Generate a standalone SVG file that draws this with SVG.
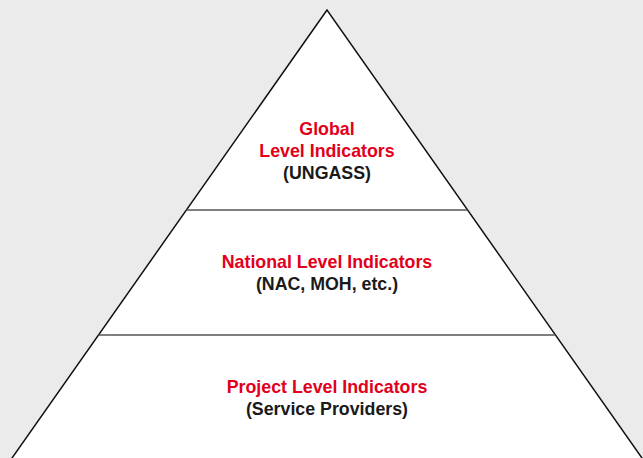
<svg xmlns="http://www.w3.org/2000/svg" width="643" height="458" viewBox="0 0 643 458">
<style>
.t{font-family:"Liberation Sans",Arial,sans-serif;font-weight:bold;font-size:17.8px;text-anchor:middle}
.r{fill:#e2001a}
.k{fill:#1a1a1a}
.sep{stroke:#555;stroke-width:1.6;fill:none}
</style>
<rect width="643" height="458" fill="#ebebeb"/>
<g id="pyramid">
<polygon points="327,10 3.6,470 650.4,470" fill="#fff" stroke="#111" stroke-width="1.5"/>
</g>
<g id="connectors">
<line class="sep" x1="186.4" y1="210" x2="467.6" y2="210"/>
<line class="sep" x1="98.5" y1="335" x2="555.5" y2="335"/>
</g>
<g id="global">
<text class="t r" x="327" y="135">Global</text>
<text class="t r" x="327" y="157">Level Indicators</text>
<text class="t k" x="327" y="179">(UNGASS)</text>
</g>
<g id="national">
<text class="t r" x="327" y="268">National Level Indicators</text>
<text class="t k" x="327" y="290">(NAC, MOH, etc.)</text>
</g>
<g id="project">
<text class="t r" x="327" y="393">Project Level Indicators</text>
<text class="t k" x="327" y="415">(Service Providers)</text>
</g>
</svg>
